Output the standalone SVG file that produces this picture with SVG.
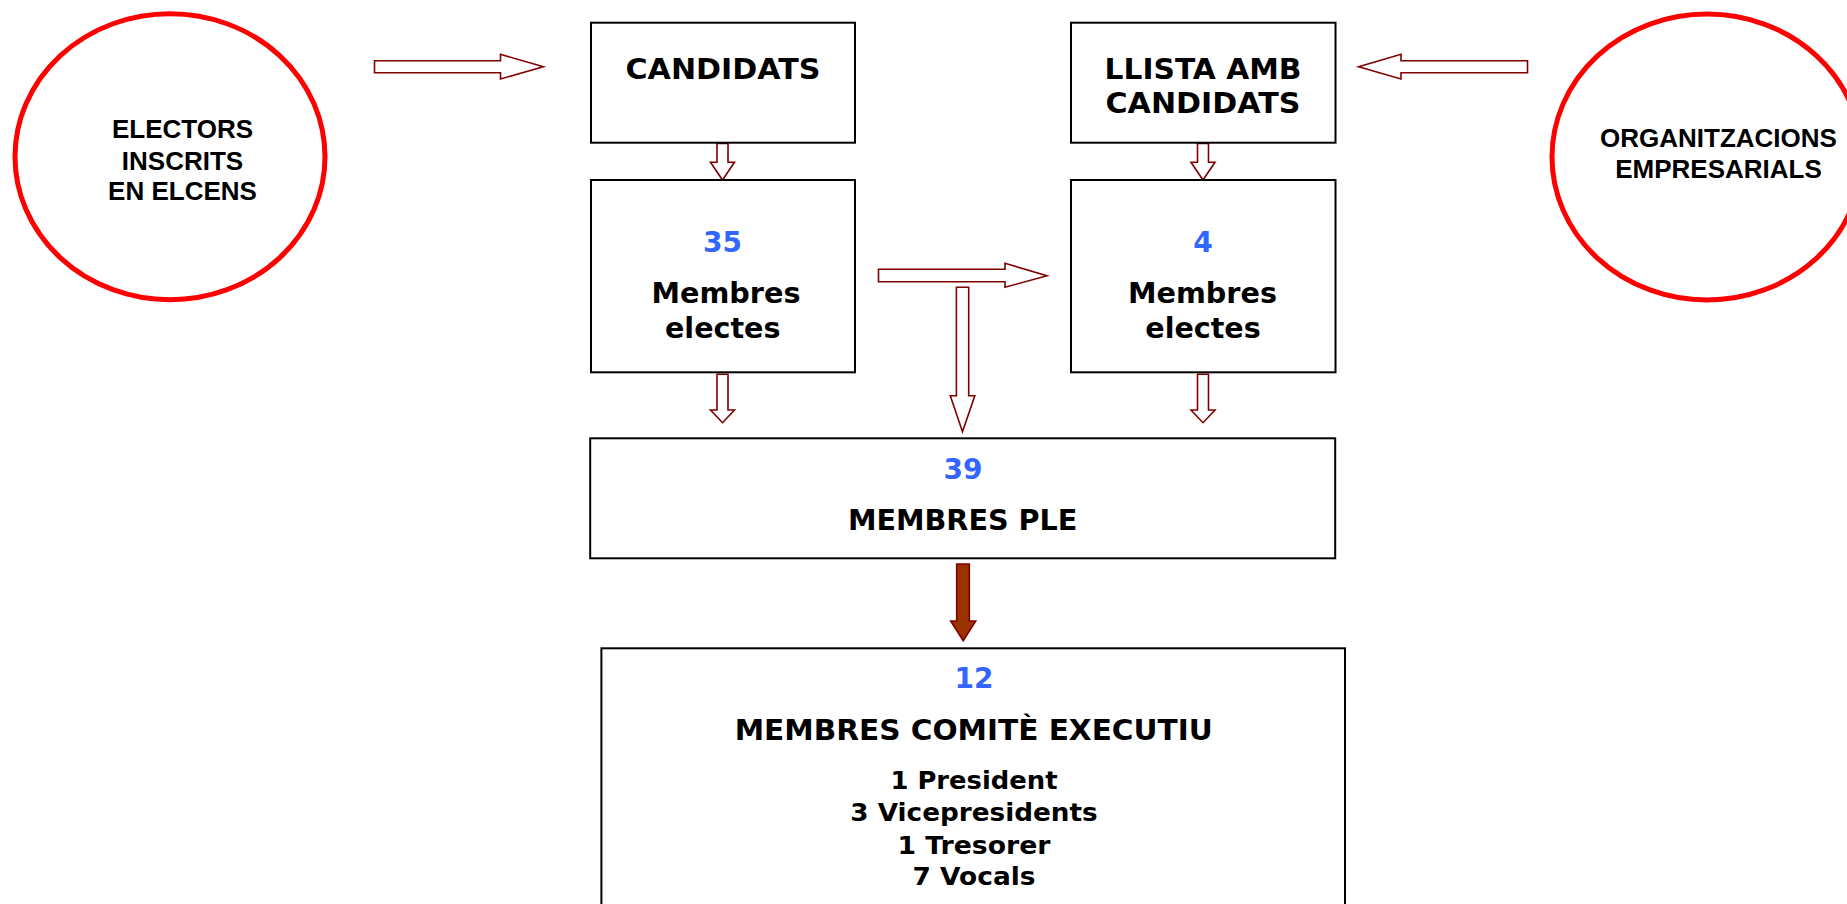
<svg xmlns="http://www.w3.org/2000/svg" width="1847" height="904" viewBox="0 0 1847 904">
<style>
.box{fill:#fff;stroke:#000;stroke-width:2}
.circ{fill:#fff;stroke:#ff0000;stroke-width:5}
.arr{fill:#fff;stroke:#800000;stroke-width:1.6;stroke-linejoin:miter}
.arrs{fill:#993300;stroke:#800000;stroke-width:1.6}
.t{font-family:"DejaVu Sans","Verdana",sans-serif;font-weight:bold;font-size:27.5px;fill:#000;text-anchor:middle}
.n{font-family:"DejaVu Sans","Verdana",sans-serif;font-weight:bold;font-size:28px;fill:#3366ff;text-anchor:middle}
.l{font-family:"DejaVu Sans","Verdana",sans-serif;font-weight:bold;font-size:24.5px;fill:#000;text-anchor:middle}
.c{font-family:"Liberation Sans",Arial,sans-serif;font-weight:bold;font-size:26px;fill:#000;text-anchor:middle}
</style>
<rect width="1847" height="904" fill="#fff"/>
<g id="connectors">
<polygon class="arr" points="374.5,60.7 500.5,60.7 500.5,54.3 543.4,66.7 500.5,79 500.5,72.7 374.5,72.7"/>
<polygon class="arr" points="1527.5,60.7 1401,60.7 1401,54.3 1358.6,66.7 1401,79 1401,72.7 1527.5,72.7"/>
<polygon class="arr" points="717,143.5 728,143.5 728,162.3 734.5,162.3 722.5,180 710.5,162.3 717,162.3"/>
<polygon class="arr" points="1197.5,143.5 1208.5,143.5 1208.5,162.3 1215,162.3 1203,180 1191,162.3 1197.5,162.3"/>
<polygon class="arr" points="878.5,269.3 1005,269.3 1005,263.3 1047,275.7 1005,287.3 1005,281.7 878.5,281.7"/>
<polygon class="arr" points="956.4,287.3 968.7,287.3 968.7,395.7 974.8,395.7 962.5,431.7 950.3,395.7 956.4,395.7"/>
<polygon class="arr" points="717,374.3 728,374.3 728,410 734.5,410 722.5,422.7 710.5,410 717,410"/>
<polygon class="arr" points="1197.5,374.3 1208.5,374.3 1208.5,410 1215,410 1203,422.7 1191,410 1197.5,410"/>
<polygon class="arrs" points="956.7,564 969.3,564 969.3,621 975.7,621 963.2,640.7 950.7,621 956.7,621"/>
</g>
<g id="electors">
<ellipse class="circ" cx="170" cy="156.7" rx="155" ry="143"/>
<text class="c" x="182.5" y="138.3">ELECTORS</text>
<text class="c" x="182.5" y="170">INSCRITS</text>
<text class="c" x="182.5" y="200">EN ELCENS</text>
</g>
<g id="organitzacions">
<ellipse class="circ" cx="1707" cy="157" rx="155" ry="143"/>
<text class="c" x="1718.5" y="147.3">ORGANITZACIONS</text>
<text class="c" x="1718.5" y="178.3">EMPRESARIALS</text>
</g>
<g id="candidats">
<rect class="box" x="591" y="22.7" width="264" height="120"/>
<text class="t" x="723" y="79" textLength="195" lengthAdjust="spacingAndGlyphs">CANDIDATS</text>
</g>
<g id="llista">
<rect class="box" x="1071" y="22.7" width="264.5" height="120"/>
<text class="t" x="1203" y="79" textLength="197" lengthAdjust="spacingAndGlyphs">LLISTA AMB</text>
<text class="t" x="1203" y="113.3" textLength="195" lengthAdjust="spacingAndGlyphs">CANDIDATS</text>
</g>
<g id="electes35">
<rect class="box" x="591" y="180" width="264" height="192.3"/>
<text class="n" x="722.5" y="252.3">35</text>
<text class="t" x="726" y="303.3" textLength="149" lengthAdjust="spacingAndGlyphs">Membres</text>
<text class="t" x="722.7" y="338.3" textLength="115.4" lengthAdjust="spacingAndGlyphs">electes</text>
</g>
<g id="electes4">
<rect class="box" x="1071" y="180" width="264.5" height="192.3"/>
<text class="n" x="1203" y="252.3">4</text>
<text class="t" x="1202.5" y="303.3" textLength="149" lengthAdjust="spacingAndGlyphs">Membres</text>
<text class="t" x="1203" y="338.3" textLength="115.4" lengthAdjust="spacingAndGlyphs">electes</text>
</g>
<g id="ple">
<rect class="box" x="590.2" y="438.3" width="745" height="120"/>
<text class="n" x="963" y="479.3">39</text>
<text class="t" x="962.7" y="530" textLength="229.5" lengthAdjust="spacingAndGlyphs">MEMBRES PLE</text>
</g>
<g id="comite">
<rect class="box" x="601.4" y="648.3" width="743.6" height="300"/>
<text class="n" x="974" y="688.3">12</text>
<text class="t" x="973.7" y="740" textLength="478" lengthAdjust="spacingAndGlyphs">MEMBRES COMITÈ EXECUTIU</text>
<text class="l" x="974" y="789.3" textLength="167" lengthAdjust="spacingAndGlyphs">1 President</text>
<text class="l" x="974" y="820.5" textLength="247.5" lengthAdjust="spacingAndGlyphs">3 Vicepresidents</text>
<text class="l" x="974" y="853.5" textLength="153" lengthAdjust="spacingAndGlyphs">1 Tresorer</text>
<text class="l" x="974" y="885" textLength="123" lengthAdjust="spacingAndGlyphs">7 Vocals</text>
</g>
</svg>
